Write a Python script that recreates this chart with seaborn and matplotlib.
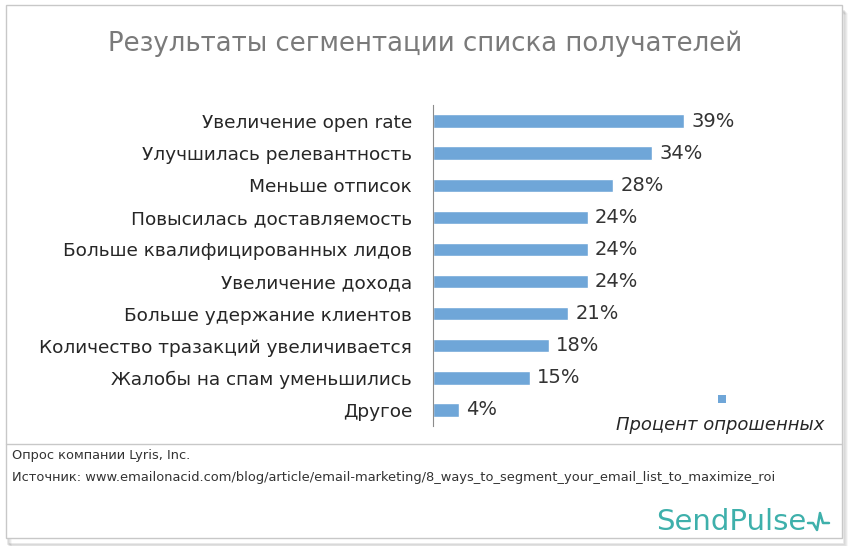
# ── imports ──────────────────────────────────────────
import matplotlib
matplotlib.use('Agg')
import pandas as pd
import matplotlib.pyplot as plt
import seaborn as sns
from matplotlib.patches import Rectangle
from matplotlib.lines import Line2D

# ── data ─────────────────────────────────────────────
categories = [
    'Увеличение open rate',
    'Улучшилась релевантность',
    'Меньше отписок',
    'Повысилась доставляемость',
    'Больше квалифицированных лидов',
    'Увеличение дохода',
    'Больше удержание клиентов',
    'Количество тразакций увеличивается',
    'Жалобы на спам уменьшились',
    'Другое',
]
percent = [39, 34, 28, 24, 24, 24, 21, 18, 15, 4]
value_labels = ['39%', '34%', '28%', '24%', '24%', '24%', '21%', '18%', '15%', '4%']

title = 'Результаты сегментации списка получателей'
legend_label = 'Процент опрошенных'
note = 'Опрос компании Lyris, Inc.'
source = 'Источник: www.emailonacid.com/blog/article/email-marketing/8_ways_to_segment_your_email_list_to_maximize_roi'

df = pd.DataFrame({'category': categories, 'percent': percent})

# ── style ────────────────────────────────────────────
sns.set_style('white')
plt.rcParams['font.family'] = ['DejaVu Sans']

bar_color = '#6fa6d8'
W, H = 848, 546
fig = plt.figure(figsize=(W / 100, H / 100), dpi=100)

# card with a soft shadow (drawn behind the axes)
for i, a in enumerate([0.10, 0.08, 0.06, 0.04]):
    fig.patches.append(Rectangle((8 / W + i / W, 2 / H - i / H), 836 / W, 533 / H,
                                 transform=fig.transFigure, facecolor='none',
                                 edgecolor='black', alpha=a, lw=1.2, zorder=-2))
fig.patches.append(Rectangle((6 / W, 8 / H), 836 / W, 533 / H,
                             transform=fig.transFigure, facecolor='white',
                             edgecolor='#c8c8c8', lw=1, zorder=-1))

# ── chart ────────────────────────────────────────────
ax = fig.add_axes([433 / W, 1 - 426 / H, 322 / W, 321 / H])
ax.set_zorder(2)
sns.barplot(data=df, x='percent', y='category', color=bar_color,
            width=0.42, saturation=1, ax=ax)
ax.set_xlim(0, 50)
ax.set_xlabel('')
ax.set_ylabel('')
ax.set_xticks([])
ax.patch.set_alpha(0)
for s in ['top', 'right', 'bottom']:
    ax.spines[s].set_visible(False)
ax.spines['left'].set_color('#8c8c8c')
ax.tick_params(axis='y', length=0, pad=15, labelsize=13.3, labelcolor='#262626')

for i, (v, lab) in enumerate(zip(percent, value_labels)):
    ax.text(v + 1.1, i, lab, va='center', ha='left', fontsize=14, color='#333333')

# ── texts ────────────────────────────────────────────
fig.text(425 / W, 1 - 44 / H, title, ha='center', va='center',
         fontsize=18.7, color='#7a7a7a')

fig.patches.append(Rectangle((718 / W, 1 - 403 / H), 8 / W, 8 / H,
                             transform=fig.transFigure, facecolor=bar_color,
                             edgecolor='none'))
fig.text(720 / W, 1 - 425 / H, legend_label, ha='center', va='center',
         fontsize=13, style='italic', color='#262626')

fig.add_artist(Line2D([6 / W, 842 / W], [1 - 444 / H, 1 - 444 / H],
                      transform=fig.transFigure, color='#c8c8c8', lw=1))
fig.text(12 / W, 1 - 456 / H, note, ha='left', va='center', fontsize=9.4, color='#333333')
fig.text(12 / W, 1 - 478 / H, source, ha='left', va='center', fontsize=9.4, color='#333333')

fig.text(806 / W, 1 - 522 / H, 'SendPulse', ha='right', va='center',
         fontsize=21, color='#3eb0ab')
fig.add_artist(Line2D(
    [808 / W, 813 / W, 817 / W, 820 / W, 823 / W, 829 / W],
    [1 - 523 / H, 1 - 523 / H, 1 - 530 / H, 1 - 513 / H, 1 - 523 / H, 1 - 523 / H],
    transform=fig.transFigure, color='#3eb0ab', lw=1.8))

plt.savefig('out.png', dpi=100)
